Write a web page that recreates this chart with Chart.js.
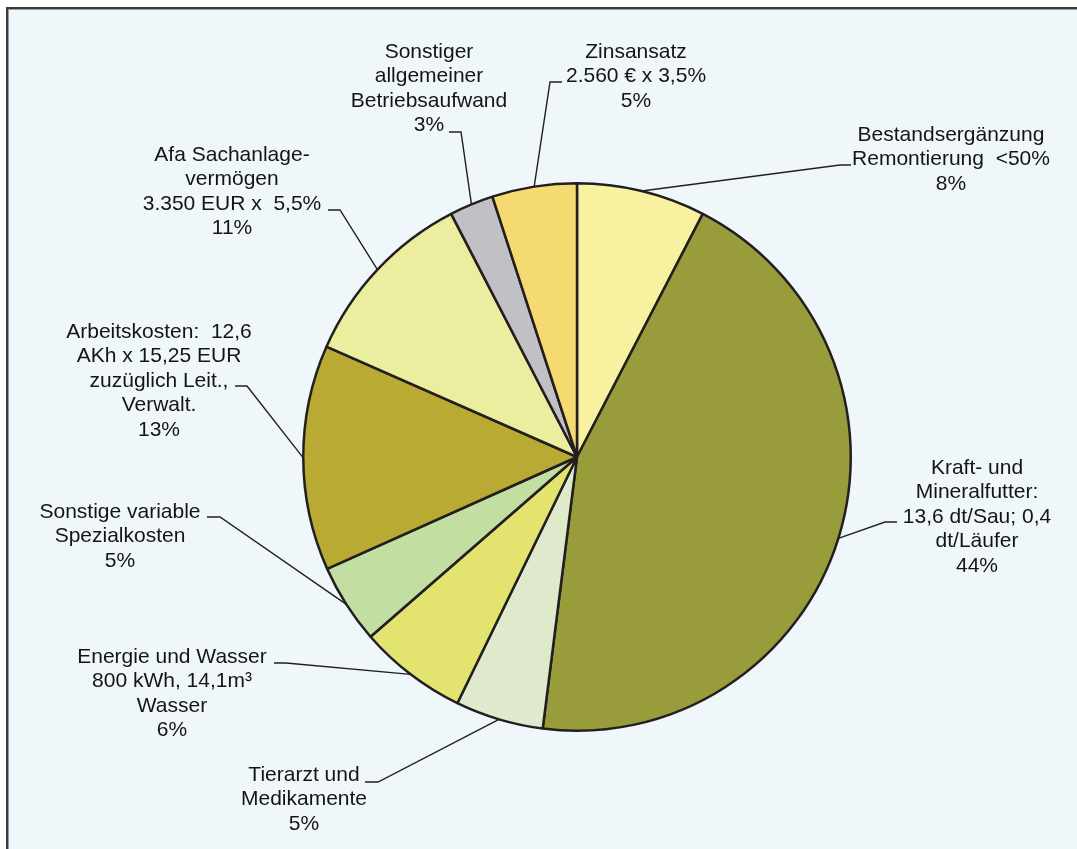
<!DOCTYPE html>
<html>
<head>
<meta charset="utf-8">
<title>Kostenstruktur</title>
<script src="https://cdn.jsdelivr.net/npm/chart.js@4/dist/chart.umd.min.js"></script>
<style>
  html, body { margin: 0; padding: 0; background: #ffffff; overflow: hidden; }
  #frame {
    position: absolute; left: 6px; top: 7px; width: 1100px; height: 870px;
    background: #eff7fb;
    border-left: 2px solid #3a3a3a; border-top: 2px solid #3a3a3a;
    box-shadow: inset 1px 1px 0 #9a9a9a;
  }
  #wrap { position: absolute; left: 0; top: 0; width: 1077px; height: 849px; }
</style>
</head>
<body>
<div id="frame"></div>
<div id="wrap"><canvas id="cost-chart" width="1077" height="849"></canvas></div>
<script>
// cost items, clockwise from 12 o'clock
const categories = [
  ['Bestandsergänzung', 'Remontierung  <50%'],
  ['Kraft- und', 'Mineralfutter:', '13,6 dt/Sau; 0,4', 'dt/Läufer'],
  ['Tierarzt und', 'Medikamente'],
  ['Energie und Wasser', '800 kWh, 14,1m³', 'Wasser'],
  ['Sonstige variable', 'Spezialkosten'],
  ['Arbeitskosten:  12,6', 'AKh x 15,25 EUR', 'zuzüglich Leit.,', 'Verwalt.'],
  ['Afa Sachanlage-', 'vermögen', '3.350 EUR x  5,5%'],
  ['Sonstiger', 'allgemeiner', 'Betriebsaufwand'],
  ['Zinsansatz', '2.560 € x 3,5%']
];
// share of total costs in percent
const shares = [7.6, 44.4, 5.2, 6.4, 4.7, 13.3, 10.8, 2.6, 5.0];

const sliceColors = ['#f8f1a0', '#999c3a', '#dfeacc', '#e3e46f', '#c2dea0',
                     '#b9aa33', '#ebee9e', '#c1c1c5', '#f5da72'];

// where each label sits: text centre x, first line y, elbow of the leader, end of its short tail
const labelSpots = [
  { x: 951, y: 135, ex: 840, ey: 165, tx: 851 },
  { x: 977, y: 468, ex: 885, ey: 522, tx: 897 },
  { x: 304, y: 775, ex: 378, ey: 782, tx: 365 },
  { x: 172, y: 657, ex: 286, ey: 663, tx: 274 },
  { x: 120, y: 512, ex: 220, ey: 517, tx: 207 },
  { x: 159, y: 332, ex: 247, ey: 386, tx: 235 },
  { x: 232, y: 155, ex: 340, ey: 210, tx: 328 },
  { x: 429, y: 52,  ex: 461, ey: 132, tx: 449 },
  { x: 636, y: 52,  ex: 550, ey: 82,  tx: 562 }
];

const leaderLabels = {
  id: 'leaderLabels',
  afterDatasetsDraw(chart) {
    const ctx = chart.ctx;
    const arcs = chart.getDatasetMeta(0).data;
    ctx.save();
    ctx.strokeStyle = '#231f20';
    ctx.lineWidth = 1.4;
    ctx.fillStyle = '#141414';
    ctx.font = '21px "Liberation Sans", Arial, sans-serif';
    ctx.textAlign = 'center';
    ctx.textBaseline = 'middle';
    arcs.forEach((arc, i) => {
      const p = arc.getProps(['x', 'y', 'startAngle', 'endAngle', 'outerRadius'], true);
      const mid = (p.startAngle + p.endAngle) / 2;
      const spot = labelSpots[i];
      ctx.beginPath();
      ctx.moveTo(p.x + Math.cos(mid) * p.outerRadius, p.y + Math.sin(mid) * p.outerRadius);
      ctx.lineTo(spot.ex, spot.ey);
      ctx.lineTo(spot.tx, spot.ey);
      ctx.stroke();
      const lines = categories[i].concat([Math.round(shares[i]) + '%']);
      lines.forEach((t, k) => ctx.fillText(t, spot.x, spot.y + k * 24.5));
    });
    ctx.restore();
  }
};

const ctx = document.getElementById('cost-chart').getContext('2d');
const chart = new Chart(ctx, {
  type: 'pie',
  data: {
    labels: categories.map(c => c.join(' ')),
    datasets: [{
      data: shares,
      backgroundColor: sliceColors,
      borderColor: '#231f20',
      borderWidth: 2.5
    }]
  },
  options: {
    responsive: false,
    animation: false,
    devicePixelRatio: 1,
    layout: { padding: { left: 302, right: 225, top: 182, bottom: 117 } },
    plugins: { legend: { display: false }, tooltip: { enabled: false } }
  },
  plugins: [leaderLabels]
});
</script>
</body>
</html>
